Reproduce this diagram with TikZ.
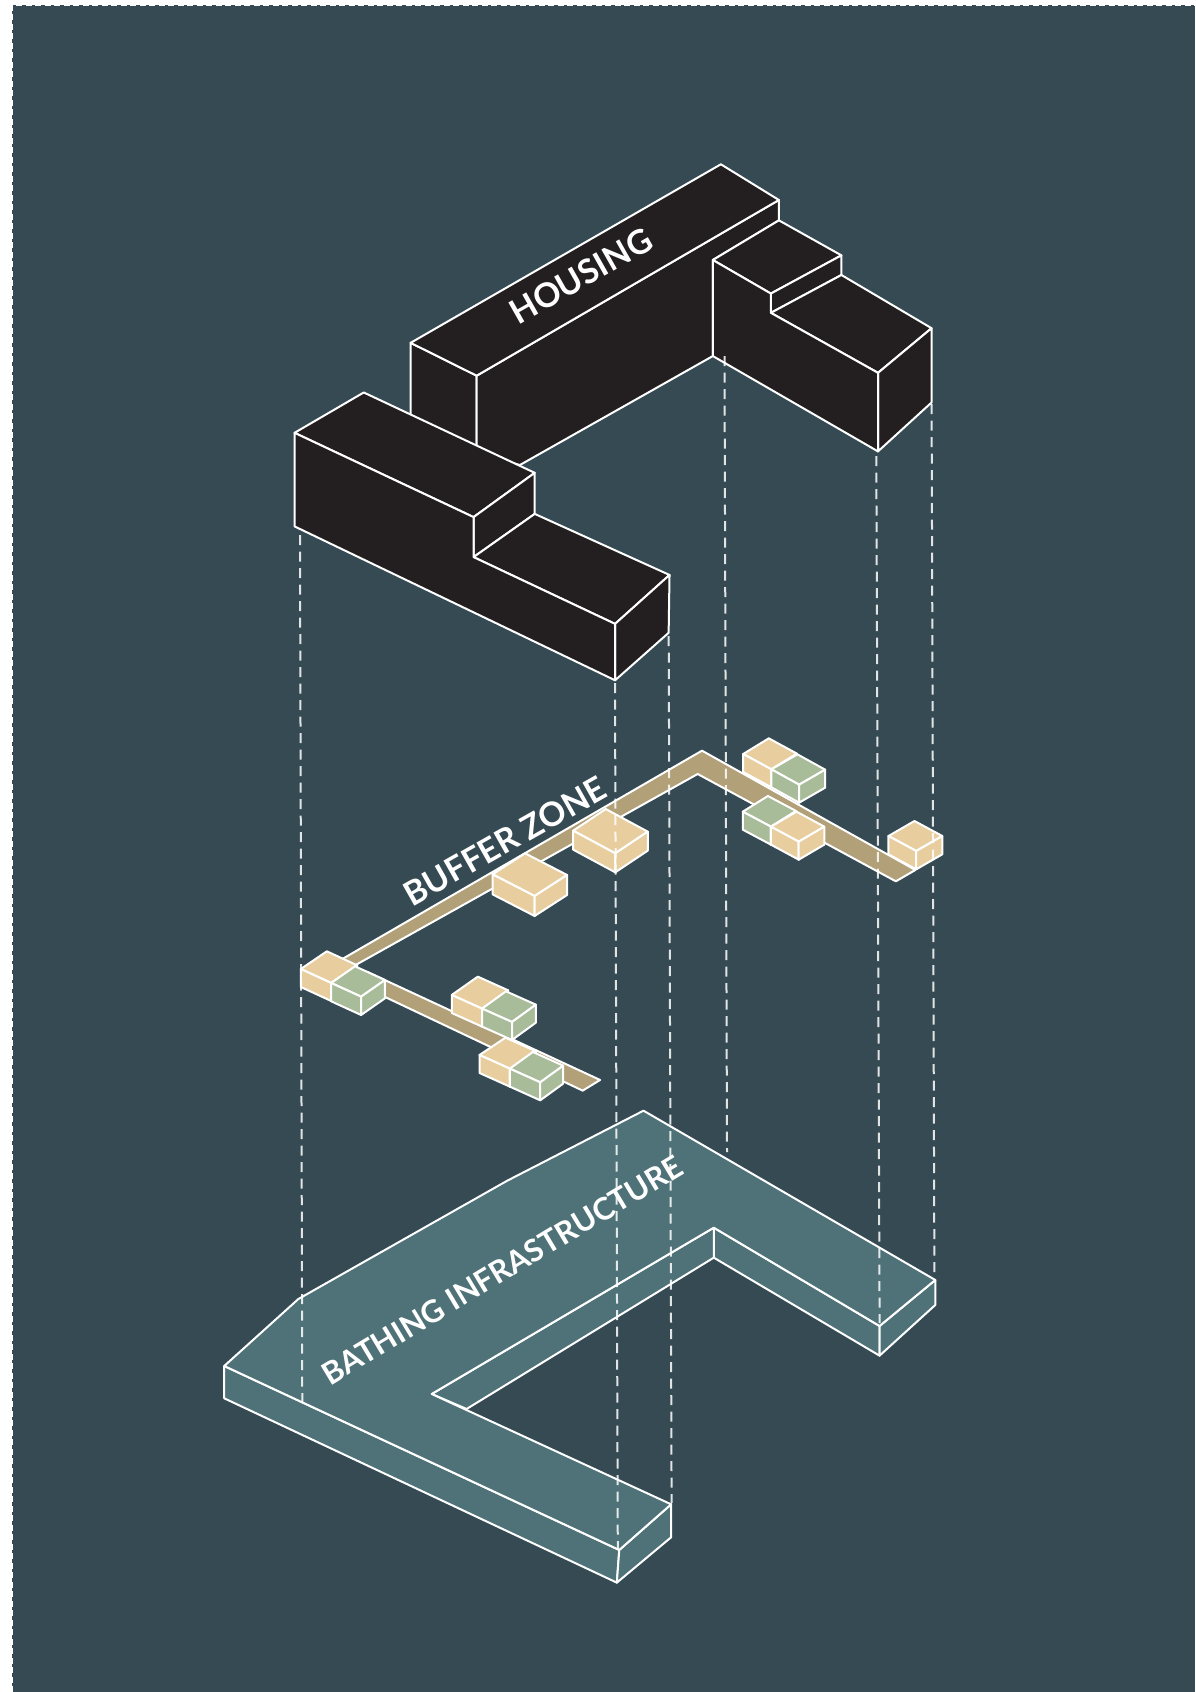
\documentclass[tikz,border=0pt]{standalone}
\usepackage{fontspec}
\setmainfont{Lato}
\definecolor{bg}{HTML}{354A53}
\definecolor{teal}{HTML}{4E7277}
\definecolor{blk}{HTML}{231F20}
\definecolor{org}{HTML}{E8CE9F}
\definecolor{grn}{HTML}{A9BC9A}
\definecolor{bnd}{HTML}{B1A078}
\tikzset{
  edge/.style={draw=white,line width=2pt,line join=round},
  guide/.style={draw=white,draw opacity=.85,line width=2pt,dash pattern=on 10pt off 6.5pt},
  lab/.style={text=white,inner sep=0pt,anchor=center},
  zoomA/.style={x=0.4464pt,y=-0.3571pt,shift={(270pt,-140pt)}},
  zoomB/.style={x=0.4337pt,y=-0.3333pt,shift={(280pt,-720pt)}},
  zoomC/.style={x=0.4847pt,y=-0.3333pt,shift={(200pt,-1090pt)}}
}
% #1 colour, (#2,#3) left corner, (#4,#5) u, (#6,#7) v, #8 height
\newcommand{\isobox}[8]{%
  \filldraw[edge,fill=#1] (#2,#3) -- (#2+#6,#3+#7) -- (#2+#4+#6,#3+#5+#7) -- (#2+#4,#3+#5) -- cycle;
  \filldraw[edge,fill=#1] (#2,#3) -- (#2+#4,#3+#5) -- (#2+#4,#3+#5+#8) -- (#2,#3+#8) -- cycle;
  \filldraw[edge,fill=#1] (#2+#4,#3+#5) -- (#2+#4+#6,#3+#5+#7) -- (#2+#4+#6,#3+#5+#7+#8) -- (#2+#4,#3+#5+#8) -- cycle;
}
\begin{document}
\begin{tikzpicture}[x=1pt,y=-1pt]
\useasboundingbox (0,0) rectangle (1195,1692);
\fill[white] (0,0) rectangle (1195,1692);
\fill[bg] (12,5) rectangle (1195,1692);
\draw[draw=white,line width=2.4pt,dash pattern=on 6pt off 3.5pt] (12,1692) -- (12,5) -- (1195,5);

% Bathing infrastructure
\begin{scope}[zoomC]
  \filldraw[edge,fill=teal] (1060,413) -- (1060,503) -- (1402,797) -- (1402,708) -- cycle;
  \filldraw[edge,fill=teal] (1402,708) -- (1402,797) -- (1517,645) -- (1517,570) -- cycle;
  \filldraw[edge,fill=teal] (1060,413) -- (1060,503) -- (550,957) -- (478,912) -- cycle;
  \filldraw[edge,fill=teal] (50,828) -- (50,925) -- (860,1478) -- (865,1380) -- cycle;
  \filldraw[edge,fill=teal] (865,1380) -- (860,1478) -- (972,1342) -- (972,1243) -- cycle;
  \filldraw[edge,fill=teal] (50,828) -- (203,627) -- (634,272) -- (915,62) -- (1517,570) -- (1402,708) -- (1060,413) -- (478,912) -- (972,1243) -- (865,1380) -- cycle;
\end{scope}

% Buffer zone bands and boxes
\begin{scope}[zoomB]
  \filldraw[edge,fill=bnd] (100,750) -- (973,92) -- (1465,450) -- (1420,484) -- (963,162) -- (140,760) -- cycle;
  \filldraw[edge,fill=bnd] (200,755) -- (738,1080) -- (698,1112) -- (200,805) -- cycle;
  \isobox{org}{676}{332}{97}{68}{75}{-65}{57}
  \isobox{org}{490}{463}{97}{65}{75}{-63}{60}
  \isobox{org}{1403}{348}{64}{45}{60}{-45}{55}
  \isobox{org}{1068}{102}{65}{46}{59}{-47}{54}
  \isobox{grn}{1133}{148}{64}{46}{60}{-45}{54}
  \isobox{grn}{1067}{275}{65}{45}{58}{-47}{54}
  \isobox{org}{1132}{320}{64}{45}{59}{-45}{54}
  \isobox{org}{48}{747}{70}{42}{60}{-53}{54}
  \isobox{grn}{118}{789}{69}{41}{55}{-50}{55}
  \isobox{org}{396}{825}{70}{41}{60}{-55}{54}
  \isobox{grn}{466}{866}{69}{40}{55}{-52}{54}
  \isobox{org}{460}{1005}{70}{41}{60}{-52}{54}
  \isobox{grn}{530}{1046}{70}{41}{53}{-50}{54}
\end{scope}

% Housing
\begin{scope}[zoomA]
  \filldraw[edge,fill=blk] (315,568) -- (315,800) -- (463,880) -- (463,660) -- cycle;
  \filldraw[edge,fill=blk] (463,660) -- (463,880) -- (560,910) -- (992,605) -- (992,336) -- (1140,225) -- (1140,168) -- cycle;
  \filldraw[edge,fill=blk] (315,568) -- (1010,68) -- (1140,168) -- (463,660) -- cycle;
  \filldraw[edge,fill=blk] (992,336) -- (1140,225) -- (1280,323) -- (1122,430) -- cycle;
  \filldraw[edge,fill=blk] (1122,430) -- (1280,323) -- (1280,378) -- (1122,484) -- cycle;
  \filldraw[edge,fill=blk] (1122,484) -- (1280,378) -- (1482,527) -- (1362,652) -- cycle;
  \filldraw[edge,fill=blk] (1362,652) -- (1482,527) -- (1482,735) -- (1362,872) -- cycle;
  \filldraw[edge,fill=blk] (992,336) -- (1122,430) -- (1122,484) -- (1362,652) -- (1362,872) -- (992,605) -- cycle;
  % front block
  \filldraw[edge,fill=blk] (55,820) -- (210,707) -- (593,932) -- (456,1056) -- cycle;
  \filldraw[edge,fill=blk] (456,1056) -- (593,932) -- (593,1047) -- (456,1168) -- cycle;
  \filldraw[edge,fill=blk] (456,1168) -- (593,1047) -- (895,1218) -- (773,1355) -- cycle;
  \filldraw[edge,fill=blk] (773,1355) -- (895,1218) -- (893,1380) -- (773,1513) -- cycle;
  \filldraw[edge,fill=blk] (55,820) -- (456,1056) -- (456,1168) -- (773,1355) -- (773,1513) -- (55,1082) -- cycle;
\end{scope}

% Guides
\draw[guide] (300,535) -- (302.3,1408);
\draw[guide] (615,683) -- (617.8,1550);
\draw[guide] (668.7,636) -- (671.6,1503);
\draw[guide] (724.5,356) -- (727,1152);
\draw[guide] (876.3,456) -- (879.6,1323);
\draw[guide] (931.6,404) -- (934.4,1278);

% Labels
\node[lab,rotate=29.5,font=\bfseries\fontsize{33.7}{34}\selectfont] (housing) at (581,276) {HOUSING};
\node[lab,rotate=29.5,font=\bfseries\fontsize{33.5}{34}\selectfont] (buffer) at (505,841) {BUFFER ZONE};
\node[lab,rotate=31,font=\bfseries\fontsize{30.9}{31}\selectfont] (bathing) at (502,1270) {BATHING INFRASTRUCTURE};
\end{tikzpicture}
\end{document}
